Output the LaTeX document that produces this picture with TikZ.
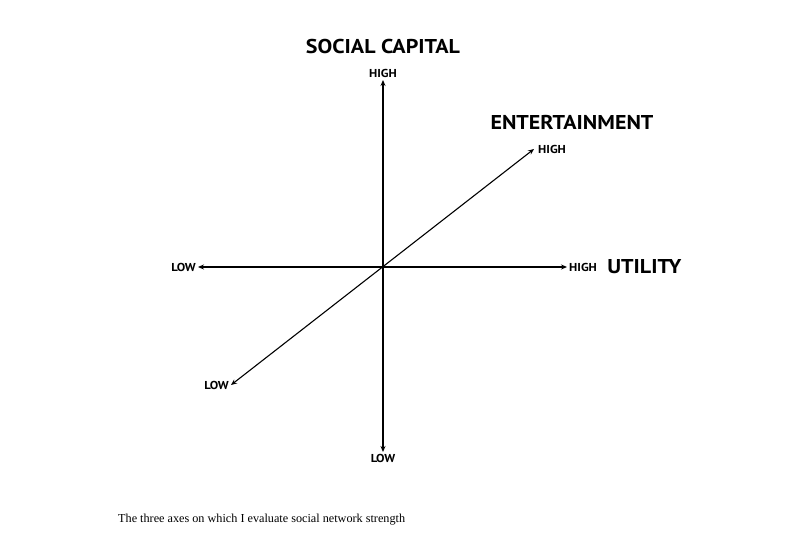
\documentclass[tikz,border=0pt]{standalone}
\usepackage{fontspec}
\setmainfont{Liberation Serif}
\newfontfamily\handfont[FakeStretch=1.1]{PT Sans}
\usetikzlibrary{positioning,arrows.meta}
\begin{document}
\begin{tikzpicture}[x=1pt,y=-1pt,
    axis/.style={line width=1.1pt,{Stealth[length=6pt,width=5pt]}-{Stealth[length=6pt,width=5pt]}},
    tick/.style={font=\handfont\bfseries\fontsize{11.5}{12}\selectfont,inner sep=1pt},
    axtitle/.style={font=\handfont\bfseries\fontsize{20}{22}\selectfont,inner sep=1pt}]
    \useasboundingbox (0,0) rectangle (807,548);
    % arrow tips of the three axes
    \coordinate (origin) at (383,267);
    \coordinate (utilHigh) at (567,267);
    \coordinate (utilLow) at (198,267);
    \coordinate (socHigh) at (383,80);
    \coordinate (socLow) at (383,452);
    \coordinate (entHigh) at (534,149);
    \coordinate (entLow) at (231,385);
    \draw[axis] (utilLow) -- (utilHigh);
    \draw[axis] (socLow) -- (socHigh);
    \draw[axis] (entLow) -- (entHigh);
    % end labels
    \node[tick,right=1pt of utilHigh] (utilHighLbl) {HIGH};
    \node[tick,left=1pt of utilLow] (utilLowLbl) {LOW};
    \node[tick,above=1pt of socHigh] (socHighLbl) {HIGH};
    \node[tick,below=1pt of socLow] (socLowLbl) {LOW};
    \node[tick,right=3pt of entHigh] (entHighLbl) {HIGH};
    \node[tick,left=1pt of entLow] (entLowLbl) {LOW};
    % axis names
    \node[axtitle,right=8pt of utilHighLbl] (utilTitle) {UTILITY};
    \node[axtitle] (socTitle) at (383,47) {SOCIAL CAPITAL};
    \node[axtitle] (entTitle) at (572,122) {ENTERTAINMENT};
    \node[anchor=west,inner sep=0pt,font=\fontsize{12.2}{14}\selectfont] (caption) at (118,520) {The three axes on which I evaluate social network strength};
\end{tikzpicture}
\end{document}
